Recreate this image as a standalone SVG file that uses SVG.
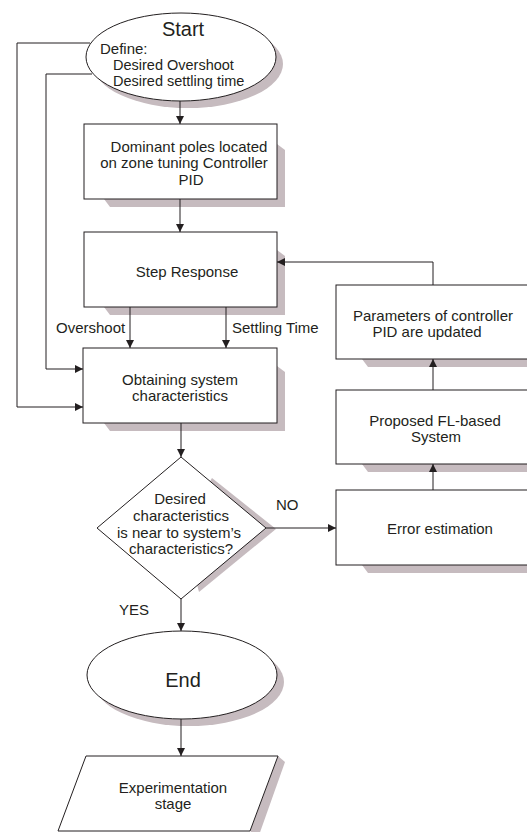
<svg xmlns="http://www.w3.org/2000/svg" width="527" height="832" viewBox="0 0 527 832">
<style>
.shape{fill:#fff;stroke:#231f20;stroke-width:1}
.sh{fill:#c6bbbf;stroke:none}
.ln{fill:none;stroke:#231f20;stroke-width:1}
.t{font-family:"Liberation Sans",Arial,sans-serif;font-size:15px;fill:#231f20}
.m{text-anchor:middle}
</style>
<defs>
<marker id="ah" markerUnits="userSpaceOnUse" markerWidth="8" markerHeight="8" viewBox="0 0 8 8" refX="8" refY="4" orient="auto">
<path d="M0,0 L8,4 L0,8 Z" fill="#231f20"/>
</marker>
</defs>
<rect width="527" height="832" fill="#fff"/>

<g id="start">
<ellipse class="sh" cx="188" cy="64" rx="95" ry="44"/>
<ellipse class="shape" cx="181" cy="57" rx="95" ry="44"/>
<text class="t m" x="183" y="36" style="font-size:20px">Start</text>
<text class="t" x="100" y="54">Define:</text>
<text class="t" x="113" y="70" style="font-size:14.5px">Desired Overshoot</text>
<text class="t" x="113" y="86" style="font-size:14.5px">Desired settling time</text>
</g>

<g id="dominant">
<polygon class="sh" points="277,144 285,150 285,207 110,207 104,199"/>
<rect class="shape" x="84" y="124" width="193" height="75"/>
<text class="t m" x="189" y="152">Dominant poles located</text>
<text class="t m" x="184" y="168">on zone tuning Controller</text>
<text class="t m" x="191" y="185">PID</text>
</g>

<g id="step">
<polygon class="sh" points="277,250 285,256 285,315 110,315 104,307"/>
<rect class="shape" x="84" y="232" width="193" height="75"/>
<text class="t m" x="187" y="277">Step Response</text>
</g>

<g id="obtaining">
<polygon class="sh" points="277,366 285,372 285,431 110,431 104,423"/>
<rect class="shape" x="83" y="348" width="194" height="75"/>
<text class="t m" x="180" y="385">Obtaining system</text>
<text class="t m" x="180" y="401">characteristics</text>
</g>

<g id="decision">
<polygon class="sh" points="212,478 276,529 199,592 181,528"/>
<polygon class="shape" points="181,457 266,528 181,599 97,528"/>
<text class="t m" x="180" y="504">Desired</text>
<text class="t m" x="181" y="521">characteristics</text>
<text class="t m" x="179" y="538">is near to system’s</text>
<text class="t m" x="181" y="554">characteristics?</text>
</g>

<g id="params">
<polygon class="sh" points="530,303 538,309 538,367 368,367 362,359"/>
<rect class="shape" x="336" y="285" width="194" height="74"/>
<text class="t m" x="433" y="321">Parameters of controller</text>
<text class="t m" x="427" y="337">PID are updated</text>
</g>

<g id="proposed">
<polygon class="sh" points="530,408 538,414 538,472 368,472 362,464"/>
<rect class="shape" x="336" y="390" width="194" height="74"/>
<text class="t m" x="435" y="426">Proposed FL-based</text>
<text class="t m" x="436" y="442">System</text>
</g>

<g id="error">
<polygon class="sh" points="530,508 538,514 538,573 368,573 362,565"/>
<rect class="shape" x="336" y="490" width="194" height="75"/>
<text class="t m" x="440" y="534">Error estimation</text>
</g>

<g id="end">
<ellipse class="sh" cx="189" cy="682" rx="95" ry="44"/>
<ellipse class="shape" cx="182" cy="675" rx="95" ry="44"/>
<text class="t m" x="183" y="687" style="font-size:20px">End</text>
</g>

<g id="experimentation">
<polygon class="sh" points="278,756 285,762 258,838 250,831"/>
<polygon class="shape" points="86,756 278,756 250,831 58,831"/>
<text class="t m" x="173" y="793">Experimentation</text>
<text class="t m" x="173" y="809">stage</text>
</g>

<g id="connectors">
<path class="ln" d="M90,43 H17 V407 H83" marker-end="url(#ah)"/>
<path class="ln" d="M92,74 H46 V369 H83" marker-end="url(#ah)"/>
<path class="ln" d="M180,101 V124" marker-end="url(#ah)"/>
<path class="ln" d="M180,199 V232" marker-end="url(#ah)"/>
<path class="ln" d="M130,307 V348" marker-end="url(#ah)"/>
<path class="ln" d="M226,307 V348" marker-end="url(#ah)"/>
<path class="ln" d="M181,423 V457" marker-end="url(#ah)"/>
<path class="ln" d="M266,528 H336" marker-end="url(#ah)"/>
<path class="ln" d="M433,490 V464" marker-end="url(#ah)"/>
<path class="ln" d="M433,390 V359" marker-end="url(#ah)"/>
<path class="ln" d="M433,285 V262 H277" marker-end="url(#ah)"/>
<path class="ln" d="M181,599 V631" marker-end="url(#ah)"/>
<path class="ln" d="M181,719 V756" marker-end="url(#ah)"/>
<text class="t" x="56" y="333">Overshoot</text>
<text class="t" x="232" y="333">Settling Time</text>
<text class="t" x="276" y="510">NO</text>
<text class="t" x="119" y="615">YES</text>
</g>
</svg>
